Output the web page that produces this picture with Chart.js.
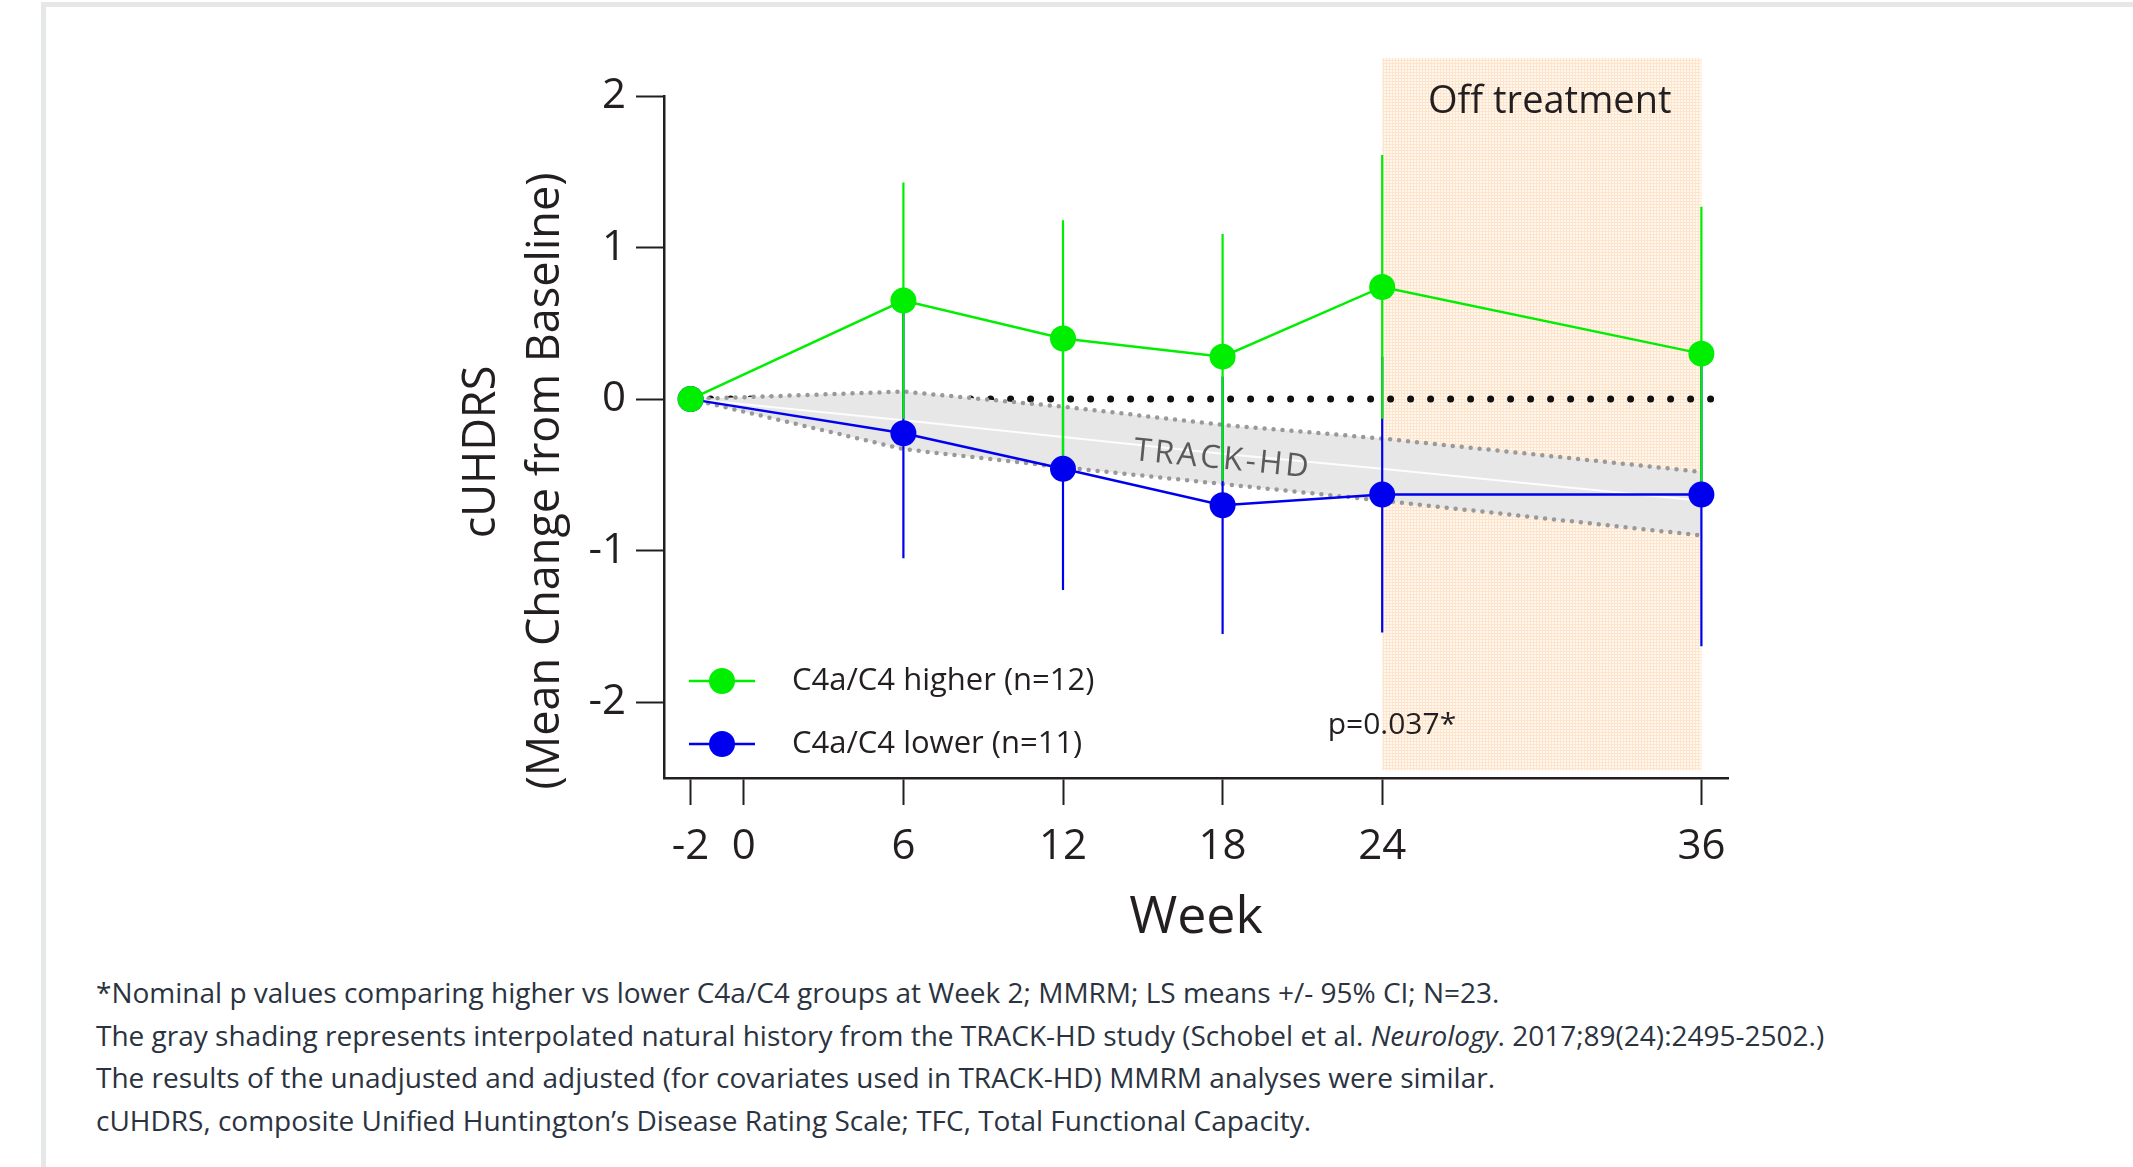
<!DOCTYPE html>
<html>
<head>
<meta charset="utf-8">
<script src="https://cdn.jsdelivr.net/npm/chart.js@4.4.0/dist/chart.umd.min.js"></script>
<style>
  body { margin: 0; background: #fff; width: 2133px; height: 1167px; overflow: hidden; position: relative; font-family: "Open Sans", sans-serif; }
  #frameTop { position: absolute; left: 41px; top: 2px; right: 0; height: 5px; background: #e6e7e8; }
  #frameLeft { position: absolute; left: 41px; top: 2px; width: 5px; bottom: 0; background: #e6e7e8; }
  #wrap { position: absolute; left: 0; top: 0; width: 2133px; height: 960px; }
  #notes { position: absolute; left: 96px; top: 971px; font-size: 28px; line-height: 42.5px; color: #2b3340; white-space: nowrap; }
</style>
</head>
<body>
<div id="frameTop"></div>
<div id="frameLeft"></div>
<div id="wrap"><canvas id="c" width="2133" height="960"></canvas></div>
<div id="notes">
  <div>*Nominal p values comparing higher vs lower C4a/C4 groups at Week 2; MMRM; LS means +/- 95% CI; N=23.</div>
  <div>The gray shading represents interpolated natural history from the TRACK-HD study (Schobel et al. <i>Neurology</i>. 2017;89(24):2495-2502.)</div>
  <div>The results of the unadjusted and adjusted (for covariates used in TRACK-HD) MMRM analyses were similar.</div>
  <div>cUHDRS, composite Unified Huntington’s Disease Rating Scale; TFC, Total Functional Capacity.</div>
</div>
<script>
// weeks where the groups were measured
const weeks = [-2, 6, 12, 18, 24, 36];

// C4a/C4 higher group: LS mean and 95% CI
const higherMean = [0, 0.65, 0.40, 0.28, 0.74, 0.30];
const higherLow  = [null, -0.13, -0.38, -0.54, -0.13, -0.66];
const higherHigh = [null, 1.43, 1.18, 1.09, 1.61, 1.27];

// C4a/C4 lower group
const lowerMean = [0, -0.225, -0.46, -0.70, -0.63, -0.63];
const lowerLow  = [null, -1.05, -1.26, -1.55, -1.54, -1.63];
const lowerHigh = [null, 0.60, 0.34, 0.15, 0.28, 0.37];

// TRACK-HD natural history band
const trackUpper = [0, 0.05, -0.05, -0.17, -0.26, -0.48];
const trackMid   = [0, -0.14, -0.25, -0.36, -0.46, -0.67];
const trackLower = [0, -0.33, -0.45, -0.56, -0.67, -0.90];

const zeroLineWeeks = [-2, 36.6];
const offTreatmentWeeks = [24, 36];
const offTreatmentRange = [-2.45, 2.25];

const weekTicks = [-2, 0, 6, 12, 18, 24, 36];
const cuhdrsTicks = [-2, -1, 0, 1, 2];

const labels = ['C4a/C4 higher (n=12)', 'C4a/C4 lower (n=11)'];
const pValue = 'p=0.037*';

const GREEN = '#00ee00';
const BLUE = '#0000ee';
const INK = '#231f20';
const FONT = '"Open Sans", sans-serif';

function pts(ys) {
  return weeks.map((w, i) => ({x: w, y: ys[i]}));
}

function errorPoints(lo, hi) {
  const out = [];
  weeks.forEach((w, i) => {
    if (lo[i] === null) return;
    out.push({x: w, y: lo[i]}, {x: w, y: hi[i]}, {x: w, y: null});
  });
  return out;
}

// light orange mesh like the original
function meshPattern(ctx) {
  const t = document.createElement('canvas');
  t.width = 3; t.height = 3;
  const g = t.getContext('2d');
  g.fillStyle = '#fff8f1';
  g.fillRect(0, 0, 3, 3);
  g.fillStyle = '#fde4cb';
  g.fillRect(0, 0, 3, 1);
  g.fillRect(0, 0, 1, 3);
  return ctx.createPattern(t, 'repeat');
}

const extras = {
  id: 'extras',
  beforeDatasetsDraw(chart) {
    const {ctx, scales: {x, y}} = chart;
    const x0 = x.getPixelForValue(offTreatmentWeeks[0]);
    const x1 = x.getPixelForValue(offTreatmentWeeks[1]);
    const y0 = y.getPixelForValue(offTreatmentRange[1]);
    const y1 = y.getPixelForValue(offTreatmentRange[0]);
    ctx.save();
    ctx.fillStyle = meshPattern(ctx);
    ctx.fillRect(x0, y0, x1 - x0, y1 - y0);
    ctx.restore();
  },
  afterDatasetDraw(chart, args) {
    if (args.index !== 3) return;
    const {ctx, scales: {x, y}} = chart;
    ctx.save();
    ctx.translate(x.getPixelForValue(18), y.getPixelForValue(-0.40));
    ctx.rotate(5.6 * Math.PI / 180);
    ctx.font = '32px ' + FONT;
    ctx.letterSpacing = '3px';
    ctx.fillStyle = '#5a5a5a';
    ctx.textAlign = 'center';
    ctx.textBaseline = 'middle';
    ctx.fillText('TRACK-HD', 0, 0);
    ctx.restore();
  },
  afterDatasetsDraw(chart) {
    const {ctx, chartArea: a, scales: {x, y}} = chart;
    ctx.save();
    ctx.fillStyle = INK;
    ctx.textBaseline = 'middle';
    ctx.textAlign = 'center';
    ctx.font = '38px ' + FONT;
    ctx.fillText('Off treatment', x.getPixelForValue(30.3), a.top + 6);

    ctx.textAlign = 'left';
    ctx.font = '30px ' + FONT;
    ctx.fillText(pValue, x.getPixelForValue(21.95), y.getPixelForValue(-2.15));

    // legend
    const rows = [[GREEN, labels[0], a.bottom - 97], [BLUE, labels[1], a.bottom - 34]];
    ctx.font = '31px ' + FONT;
    rows.forEach(([col, txt, ry]) => {
      ctx.strokeStyle = col;
      ctx.lineWidth = 2.5;
      ctx.beginPath();
      ctx.moveTo(a.left + 25, ry);
      ctx.lineTo(a.left + 91, ry);
      ctx.stroke();
      ctx.fillStyle = col;
      ctx.beginPath();
      ctx.arc(a.left + 58, ry, 13, 0, Math.PI * 2);
      ctx.fill();
      ctx.fillStyle = INK;
      ctx.fillText(txt, a.left + 128, ry);
    });
    ctx.restore();
  },
  afterDraw(chart) {
    const {ctx} = chart;
    const titleLines = [['cUHDRS', 482, 452], ['(Mean Change from Baseline)', 546, 481]];
    titleLines.forEach(([txt, tx, ty]) => {
      ctx.save();
      ctx.fillStyle = INK;
      ctx.font = '45px ' + FONT;
      ctx.textAlign = 'center';
      ctx.textBaseline = 'middle';
      ctx.translate(tx, ty);
      ctx.rotate(-Math.PI / 2);
      ctx.fillText(txt, 0, 0);
      ctx.restore();
    });
  }
};

const tickGrid = {display: true, drawOnChartArea: false, drawTicks: true, tickColor: INK, tickWidth: 2};

new Chart(document.getElementById('c').getContext('2d'), {
  type: 'line',
  data: {
    datasets: [
      {label: 'zero', data: zeroLineWeeks.map(w => ({x: w, y: 0})), borderColor: '#111', borderWidth: 7,
       borderDash: [0, 20], borderCapStyle: 'round', pointRadius: 0, order: 10},
      {label: 'track upper', data: pts(trackUpper), borderColor: '#999', borderWidth: 4.5,
       borderDash: [0, 9], borderCapStyle: 'round', pointRadius: 0, fill: '+1', backgroundColor: '#e7e7e7', order: 9},
      {label: 'track lower', data: pts(trackLower), borderColor: '#999', borderWidth: 4.5,
       borderDash: [0, 9], borderCapStyle: 'round', pointRadius: 0, order: 8},
      {label: 'track mid', data: pts(trackMid), borderColor: 'rgba(255,255,255,0.9)', borderWidth: 2,
       pointRadius: 0, order: 7},
      {label: 'lower CI', data: errorPoints(lowerLow, lowerHigh), borderColor: BLUE, borderWidth: 2.2,
       pointRadius: 0, spanGaps: false, order: 6},
      {label: 'higher CI', data: errorPoints(higherLow, higherHigh), borderColor: GREEN, borderWidth: 2.2,
       pointRadius: 0, spanGaps: false, order: 5},
      {label: labels[1], data: pts(lowerMean), borderColor: BLUE, borderWidth: 2.5,
       pointRadius: 13, pointBackgroundColor: BLUE, pointBorderWidth: 0, order: 4},
      {label: labels[0], data: pts(higherMean), borderColor: GREEN, borderWidth: 2.5,
       pointRadius: 13, pointBackgroundColor: GREEN, pointBorderWidth: 0, order: 3}
    ]
  },
  options: {
    responsive: false,
    animation: false,
    devicePixelRatio: 1,
    layout: {padding: {left: 400, top: 96, right: 405, bottom: 0}},
    elements: {line: {tension: 0}},
    plugins: {legend: {display: false}, tooltip: {enabled: false}},
    scales: {
      x: {
        type: 'linear', min: -3, max: 37,
        afterBuildTicks: s => { s.ticks = weekTicks.map(v => ({value: v})); },
        afterFit: s => { s.height = 182; },
        grid: Object.assign({tickLength: 27}, tickGrid),
        border: {display: true, color: INK, width: 2.5},
        ticks: {font: {size: 42, family: FONT}, color: INK, padding: 17, maxRotation: 0, autoSkip: false},
        title: {display: true, text: 'Week', font: {size: 52, family: FONT}, color: INK, padding: {top: 0, bottom: 11}}
      },
      y: {
        type: 'linear', min: -2.5, max: 2,
        afterBuildTicks: s => { s.ticks = cuhdrsTicks.map(v => ({value: v})); },
        afterFit: s => { s.width = 264; },
        grid: Object.assign({tickLength: 28}, tickGrid),
        border: {display: true, color: INK, width: 2.5},
        ticks: {font: {size: 42, family: FONT}, color: INK, padding: 10}
      }
    }
  },
  plugins: [extras]
});
</script>
</body>
</html>
